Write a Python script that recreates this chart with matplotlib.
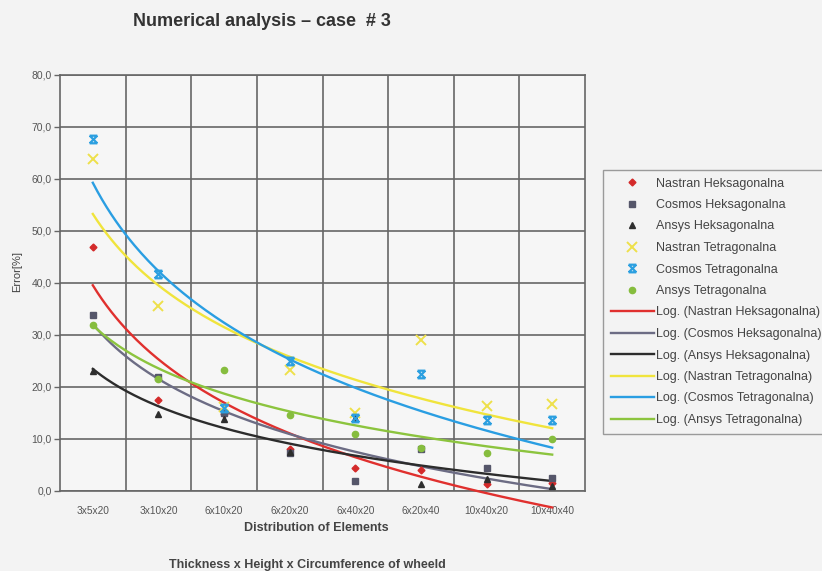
import numpy as np
import matplotlib
matplotlib.use("Agg")
import matplotlib.pyplot as plt
from matplotlib.path import Path

plt.rcParams['font.family'] = ['Liberation Sans', 'DejaVu Sans']

categories = ["3x5x20", "3x10x20", "6x10x20", "6x20x20", "6x40x20", "6x20x40", "10x40x20", "10x40x40"]
nastran_hex = [47.0, 17.5, 14.8, 8.0, 4.5, 4.0, 1.3, 1.5]
cosmos_hex = [33.9, 22.0, 15.0, 7.3, 1.9, 8.0, 4.4, 2.5]
ansys_hex = [23.1, 14.8, 13.9, 7.5, 14.0, 1.3, 2.3, 1.0]
nastran_tet = [63.8, 35.5, 16.2, 23.3, 15.0, 29.1, 16.4, 16.8]
cosmos_tet = [67.6, 41.8, 16.0, 25.0, 14.1, 22.5, 13.7, 13.7]
ansys_tet = [32.0, 21.6, 23.3, 14.6, 11.0, 8.3, 7.3, 10.0]
yticks = [0, 10, 20, 30, 40, 50, 60, 70, 80]
ytick_labels = ["0,0", "10,0", "20,0", "30,0", "40,0", "50,0", "60,0", "70,0", "80,0"]

series_names = ["Nastran Heksagonalna", "Cosmos Heksagonalna", "Ansys Heksagonalna",
                "Nastran Tetragonalna", "Cosmos Tetragonalna", "Ansys Tetragonalna"]

# custom "star" marker: X with top and bottom bars
star_path = Path([(-1, -1), (1, 1), (-1, 1), (1, -1), (-1, 1), (1, 1), (-1, -1), (1, -1)],
                 [Path.MOVETO, Path.LINETO, Path.MOVETO, Path.LINETO,
                  Path.MOVETO, Path.LINETO, Path.MOVETO, Path.LINETO])

marker_styles = [
    dict(marker='D', color='#d42a2a', ms=3.5, mec='#d42a2a'),
    dict(marker='s', color='#55566a', ms=4.5, mec='#55566a'),
    dict(marker='^', color='#2e2e2e', ms=4.5, mec='#2e2e2e'),
    dict(marker='x', color='#eee04a', ms=6.5, mew=1.4, mec='#eee04a'),
    dict(marker=star_path, color='#2b9fe0', ms=5.5, mew=1.6, mec='#2b9fe0'),
    dict(marker='o', color='#86bd3e', ms=4.5, mec='#86bd3e'),
]
line_colors = ['#e0302e', '#6c6c84', '#2c2c2c', '#f0e43c', '#2a9ee2', '#8cc43e']

bg = '#f3f3f3'
fig = plt.figure(figsize=(8.22, 5.71), dpi=100, facecolor=bg)
ax = fig.add_axes([60/822, 1-491/571, (585-60)/822, (491-75)/571])
ax.set_facecolor('#f6f6f6')

x = np.arange(1, len(categories) + 1)
all_series = [nastran_hex, cosmos_hex, ansys_hex, nastran_tet, cosmos_tet, ansys_tet]

handles_m = []
for name, ys, st in zip(series_names, all_series, marker_styles):
    h, = ax.plot(x, ys, linestyle='none', label=name, zorder=4, clip_on=False, **st)
    handles_m.append(h)

handles_l = []
xf = np.linspace(1, len(categories), 200)
for name, ys, c in zip(series_names, all_series, line_colors):
    a, b = np.polyfit(np.log(x), np.array(ys), 1)
    h, = ax.plot(xf, a*np.log(xf) + b, color=c, lw=1.7, zorder=3, clip_on=False,
                 label="Log. (" + name + ")")
    handles_l.append(h)

ax.set_xlim(0.5, len(categories) + 0.5)
ax.set_ylim(0, 80)
ax.set_yticks(yticks)
ax.set_yticklabels(ytick_labels, fontsize=7.5, color='#555555')
ax.set_xticks(x)
ax.set_xticklabels(categories, fontsize=7.3, color='#555555')
ax.set_xticks(np.arange(1.5, len(categories), 1.0), minor=True)
ax.tick_params(axis='x', which='both', length=0, pad=11)
ax.tick_params(axis='y', length=4, width=1.0, color='#666666', pad=2)
ax.grid(True, axis='y', which='major', color='#666666', lw=1.2)
ax.grid(True, axis='x', which='minor', color='#666666', lw=1.2)
ax.set_axisbelow(True)
for s in ax.spines.values():
    s.set_color('#666666')
    s.set_linewidth(1.2)

fig.text(262/822, 1-22/571, "Numerical analysis \u2013 case  # 3", fontsize=13, fontweight='bold',
         color='#333333', ha='center', va='center')
fig.text(17/822, 1-272/571, "Error[%]", fontsize=8, rotation=90, color='#444444',
         ha='center', va='center')
fig.text(316/822, 1-528/571, "Distribution of Elements", fontsize=9, fontweight='bold',
         color='#444444', ha='center', va='center')
fig.text(307/822, 1-565/571, "Thickness x Height x Circumference of wheeld", fontsize=9,
         fontweight='bold', color='#444444', ha='center', va='center')

leg = ax.legend(handles=handles_m + handles_l, loc='upper left',
                bbox_to_anchor=(603/822, 1-170/571), bbox_transform=fig.transFigure,
                fontsize=9, numpoints=1, handlelength=3.5, handletextpad=0.1,
                labelspacing=0.76, borderaxespad=0, borderpad=0.6, fancybox=False,
                frameon=True, edgecolor='#9a9a9a', facecolor=bg, framealpha=1)
for t in leg.get_texts():
    t.set_color('#444444')
leg.get_frame().set_linewidth(1.0)

fig.savefig("out.png", dpi=100, facecolor=bg)
